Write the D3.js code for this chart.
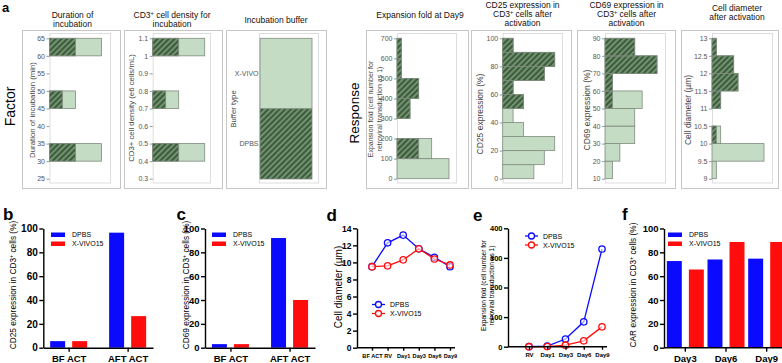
<!DOCTYPE html>
<html>
<head>
<meta charset="utf-8">
<script src="https://cdn.jsdelivr.net/npm/d3@7"></script>
<style>
  body { margin: 0; background: #fff; }
  svg { display: block; font-family: "Liberation Sans", Arial, sans-serif; }
</style>
</head>
<body>
<script>
// ---- panel a : factor / response distributions (bin lower edge, runs per bin, DPBS runs per bin)
const durationBins = [30, 45, 60];
const durationAll = [12, 6, 12];
const durationDpbs = [6, 3, 6];
const durationTicks = [25, 30, 35, 40, 45, 50, 55, 60, 65];

const densityBins = [0.4, 0.7, 1.0];
const densityAll = [12, 6, 12];
const densityDpbs = [6, 3, 6];
const densityTicks = [0.3, 0.4, 0.5, 0.6, 0.7, 0.8, 0.9, 1, 1.1];

const bufferTypes = ["DPBS", "X-VIVO"];
const bufferRuns = [15, 15];

const expansionBins = [0, 100, 200, 300, 400, 500, 600];
const expansionAll = [12, 8, 0, 3, 5, 1, 1];
const expansionDpbs = [0, 5, 0, 3, 5, 1, 1];
const expansionTicks = [0, 100, 200, 300, 400, 500, 600, 700];

const cd25Bins = [0, 10, 20, 30, 40, 50, 60, 70, 80, 90];
const cd25All = [3, 4, 5, 2, 1, 2, 1, 4, 5, 1];
const cd25DpbsRuns = [0, 0, 0, 0, 0, 2, 1, 4, 5, 1];
const cd25Ticks = [0, 20, 40, 60, 80, 100];

const cd69Bins = [10, 20, 30, 40, 50, 60, 70, 80];
const cd69All = [1, 2, 4, 4, 5, 1, 7, 4];
const cd69DpbsRuns = [0, 0, 0, 0, 1, 1, 7, 4];
const cd69Ticks = [10, 20, 30, 40, 50, 60, 70, 80, 90];

const diameterBins = [9, 9.5, 10, 10.5, 11, 11.5, 12, 12.5];
const diameterAll = [1, 12, 2, 0, 2, 6, 5, 1];
const diameterDpbs = [0, 0, 1, 0, 2, 6, 5, 1];
const diameterTicks = [9, 9.5, 10, 10.5, 11, 11.5, 12, 12.5, 13];

// ---- panels b-f
const buffers = ["DPBS", "X-VIVO15"];
const actCats = ["BF ACT", "AFT ACT"];
const cd25Dpbs = [5.5, 96.5];
const cd25Xvivo = [5.5, 26.5];
const cd69Dpbs = [3, 92];
const cd69Xvivo = [3, 40];
const diamDays = ["BF ACT", "RV", "Day1", "Day3", "Day6", "Day9"];
const diamDpbs = [9.5, 12.3, 13.2, 11.6, 10.6, 9.5];
const diamXvivo = [9.5, 9.6, 10.3, 11.6, 10.4, 9.7];
const expDays = ["RV", "Day1", "Day3", "Day6", "Day9"];
const expDpbs = [0, 2, 26, 84, 330];
const expXvivo = [0, 0.5, 5, 20, 67];
const carDays = ["Day3", "Day6", "Day9"];
const carDpbs = [72.7, 74, 74.7];
const carXvivo = [65.6, 88.7, 88.7];

const FONT = '"Liberation Sans", Arial, sans-serif';
const BLUE = "#0a0aff", RED = "#ff0d0d";
const LIGHT = "#c4dcc3", EDGE = "#7f8b7f";

const svg = d3.select("body").append("svg").attr("width", 782).attr("height", 363);

const pat = svg.append("defs").append("pattern")
  .attr("id", "hatch")
  .attr("patternUnits", "userSpaceOnUse")
  .attr("width", 4).attr("height", 4)
  .attr("patternTransform", "rotate(45)");
pat.append("rect").attr("width", 4).attr("height", 4).attr("fill", "#3c5c3c");
pat.append("rect").attr("width", 1.8).attr("height", 4).attr("fill", "#769676");

// text with "⁺" drawn as a small raised plus
function rich(sel, str) {
  str.split("⁺").forEach((part, i) => {
    if (i > 0) sel.append("tspan").attr("baseline-shift", "super").attr("font-size", "65%").text("+");
    sel.append("tspan").text(part);
  });
  return sel;
}

function text(x, y, str, size, opt) {
  opt = opt || {};
  const t = svg.append("text")
    .attr("x", x).attr("y", y)
    .attr("font-size", size)
    .attr("text-anchor", opt.anchor || "middle")
    .attr("font-weight", opt.weight || "normal")
    .attr("fill", opt.fill || "#000");
  return rich(t, str);
}

function vtext(x, y, str, size, opt) {
  opt = opt || {};
  const t = svg.append("text")
    .attr("transform", `translate(${x},${y}) rotate(-90)`)
    .attr("dy", "0.35em")
    .attr("font-size", size)
    .attr("text-anchor", "middle")
    .attr("font-weight", opt.weight || "normal")
    .attr("fill", opt.fill || "#000");
  return rich(t, str);
}

// ================= panel a =================
text(2, 12, "a", 13, {anchor: "start", weight: "bold"});
vtext(10, 106.5, "Factor", 14);
vtext(354, 113, "Response", 13.5);

function frames(f0, f1, a0, a1) {
  svg.append("rect").attr("x", f0 + 0.5).attr("y", 30.5).attr("width", f1 - f0).attr("height", 158)
    .attr("fill", "#fff").attr("stroke", "#c6c6c6");
  svg.append("rect").attr("x", a0 + 0.5).attr("y", 33.5).attr("width", a1 - a0).attr("height", 149.5)
    .attr("fill", "none").attr("stroke", "#dddddd");
}

function titles(lines, cx, y0, step) {
  lines.forEach((l, i) => text(cx, y0 + i * (step || 9.8), l, 8.5, {fill: "#111"}));
}

function histPanel(p) {
  frames(p.frame[0], p.frame[1], p.axisX, p.right);
  const y = d3.scaleLinear().domain(p.domain).range([178.7, 38.3]);
  const x = d3.scaleLinear().domain([0, d3.max(p.all)]).range([p.axisX, p.axisX + 52]);
  const g = svg.append("g");
  p.bins.forEach((b, i) => {
    if (!p.all[i]) return;
    const top = y(b + p.binW), h = y(b) - y(b + p.binW);
    g.append("rect").attr("x", x(0)).attr("y", top).attr("width", x(p.all[i]) - x(0)).attr("height", h)
      .attr("fill", LIGHT).attr("stroke", EDGE).attr("stroke-width", 0.8);
    if (p.dpbs[i]) {
      g.append("rect").attr("x", x(0)).attr("y", top).attr("width", x(p.dpbs[i]) - x(0)).attr("height", h)
        .attr("fill", "url(#hatch)").attr("stroke", EDGE).attr("stroke-width", 0.8);
    }
  });
  const ax = svg.append("g").attr("transform", `translate(${p.axisX},0)`)
    .call(d3.axisLeft(y).tickValues(p.ticks).tickSize(3).tickPadding(1.5).tickFormat(d3.format("~g")));
  ax.select(".domain").remove();
  ax.selectAll("line").attr("stroke", "#999");
  ax.selectAll("text").attr("fill", "#555").style("font-size", "7px").style("font-family", FONT);
  p.label.forEach((l, i) => vtext(p.labelX[i], p.labelY, l, p.labelSize || 7.8, {fill: "#444"}));
  titles(p.title, p.titleX, p.titleY, p.titleStep);
}

histPanel({title: ["Duration of", "incubation"], titleX: 72.5, titleY: 17.5,
  frame: [22, 120], axisX: 49.5, right: 110, domain: [25, 65], ticks: durationTicks,
  bins: durationBins, binW: 5, all: durationAll, dpbs: durationDpbs,
  label: ["Duration of incubation (min)"], labelX: [32.5], labelY: 110});

histPanel({title: ["CD3⁺ cell density for", "incubation"], titleX: 172, titleY: 17.5,
  frame: [124, 222], axisX: 152.7, right: 210, domain: [0.3, 1.1], ticks: densityTicks,
  bins: densityBins, binW: 0.1, all: densityAll, dpbs: densityDpbs,
  label: ["CD3+ cell density (e6 cells/mL)"], labelX: [131.5], labelY: 108});

// incubation buffer (mosaic)
(function () {
  frames(226, 326, 259, 318);
  const total = d3.sum(bufferRuns);
  const y = d3.scaleLinear().domain([0, total]).range([179, 38.3]);
  let acc = 0;
  bufferTypes.forEach((b, i) => {
    const y0 = y(acc), y1 = y(acc + bufferRuns[i]);
    svg.append("rect").attr("x", 260).attr("y", y1).attr("width", 52).attr("height", y0 - y1)
      .attr("fill", b === "DPBS" ? "url(#hatch)" : LIGHT).attr("stroke", EDGE).attr("stroke-width", 0.8);
    text(258.5, (y0 + y1) / 2 + 2.5, b, 7, {anchor: "end", fill: "#555"});
    acc += bufferRuns[i];
  });
  vtext(233, 109, "Buffer type", 7.8, {fill: "#444"});
  titles(["Incubation buffer"], 276, 22.5);
})();

histPanel({title: ["Expansion fold at Day9"], titleX: 420, titleY: 18,
  frame: [366, 468], axisX: 397, right: 456, domain: [0, 700], ticks: expansionTicks,
  bins: expansionBins, binW: 100, all: expansionAll, dpbs: expansionDpbs,
  label: ["Expansion fold (cell number for", "retroviral transduction as 1)"],
  labelX: [371, 379.5], labelY: 109, labelSize: 7});

histPanel({title: ["CD25 expression in", "CD3⁺ cells after", "activation"], titleX: 522.5, titleY: 7.5, titleStep: 9,
  frame: [471, 571], axisX: 502.7, right: 562, domain: [0, 100], ticks: cd25Ticks,
  bins: cd25Bins, binW: 10, all: cd25All, dpbs: cd25DpbsRuns,
  label: ["CD25 expression (%)"], labelX: [480.5], labelY: 114, labelSize: 8.5});

histPanel({title: ["CD69 expression in", "CD3⁺ cells after", "activation"], titleX: 626.5, titleY: 7.5, titleStep: 9,
  frame: [577, 675], axisX: 605, right: 665, domain: [10, 90], ticks: cd69Ticks,
  bins: cd69Bins, binW: 10, all: cd69All, dpbs: cd69DpbsRuns,
  label: ["CD69 expression (%)"], labelX: [587], labelY: 110, labelSize: 8.5});

histPanel({title: ["Cell diameter", "after activation"], titleX: 737, titleY: 10.5,
  frame: [681, 778], axisX: 712, right: 772, domain: [9, 13], ticks: diameterTicks,
  bins: diameterBins, binW: 0.5, all: diameterAll, dpbs: diameterDpbs,
  label: ["Cell diameter (µm)"], labelX: [688.5], labelY: 110, labelSize: 8.5});

// ================= panels b - f =================
function styleAxis(ax, size) {
  ax.selectAll("path, line").attr("stroke", "#000").attr("stroke-width", 1.4);
  ax.selectAll("text").attr("fill", "#000").style("font-size", size + "px")
    .style("font-weight", "bold").style("font-family", FONT);
}

function yAxis(y, x, ticks, size) {
  const ax = svg.append("g").attr("transform", `translate(${x},0)`)
    .call(d3.axisLeft(y).tickValues(ticks).tickSize(4).tickSizeOuter(0).tickPadding(1.5));
  styleAxis(ax, size);
}

function barLegend(x, y) {
  [BLUE, RED].forEach((c, i) => {
    svg.append("rect").attr("x", x).attr("y", y + i * 9 - 2).attr("width", 14).attr("height", 4.5).attr("fill", c);
    text(x + 21, y + i * 9 + 2.5, buffers[i], 7, {anchor: "start"});
  });
}

function lineLegend(x, y) {
  [BLUE, RED].forEach((c, i) => {
    const yy = y + i * 9;
    svg.append("line").attr("x1", x).attr("x2", x + 13).attr("y1", yy).attr("y2", yy)
      .attr("stroke", c).attr("stroke-width", 1.3);
    svg.append("circle").attr("cx", x + 6.5).attr("cy", yy).attr("r", 3)
      .attr("fill", "#fff").attr("stroke", c).attr("stroke-width", 1.3);
    text(x + 18, yy + 2.5, buffers[i], 7, {anchor: "start"});
  });
}

function barPanel(p) {
  const y = d3.scaleLinear().domain([0, 100]).range([347.7, 228.5]);
  const x = p.band
    ? d3.scaleBand().domain(p.cats).range([p.axisX + 1, p.xEnd])
    : d3.scalePoint().domain(p.cats).range([p.axisX, p.xEnd]).padding(0.43);
  const sub = d3.scaleBand().domain(buffers).range([-18.5, 18.5]).paddingInner(0.32);
  const center = c => p.band ? x(c) + x.bandwidth() / 2 : x(c);
  [p.dpbs, p.xvivo].forEach((vals, s) => {
    svg.append("g").selectAll("rect").data(p.cats).join("rect")
      .attr("x", c => center(c) + sub(buffers[s]))
      .attr("y", (c, i) => y(vals[i]))
      .attr("width", sub.bandwidth())
      .attr("height", (c, i) => y(0) - y(vals[i]))
      .attr("fill", s ? RED : BLUE);
  });
  yAxis(y, p.axisX, [0, 20, 40, 60, 80, 100], p.tick);
  const xa = svg.append("g").attr("transform", `translate(0,${y(0)})`)
    .call(d3.axisBottom(x).tickSize(4).tickSizeOuter(0).tickPadding(4));
  if (p.band) xa.select(".domain").attr("d", `M${p.axisX},0H${p.xEnd}`);
  styleAxis(xa, 9.5);
  barLegend(p.legendX, 234.5);
  vtext(p.labelX, 285, p.label, 8.3);
  text(p.letterX, 220, p.letter, 17, {anchor: "start", weight: "bold"});
}

barPanel({letter: "b", letterX: 3, axisX: 43.3, xEnd: 153, cats: actCats, dpbs: cd25Dpbs, xvivo: cd25Xvivo,
  tick: 10, label: "CD25 expression in CD3⁺ cells (%)", labelX: 13, legendX: 51});
barPanel({letter: "c", letterX: 176.5, axisX: 205, xEnd: 315, cats: actCats, dpbs: cd69Dpbs, xvivo: cd69Xvivo,
  tick: 9.5, label: "CD69 expression in CD3⁺ cells (%)", labelX: 186, legendX: 212});
barPanel({letter: "f", letterX: 622, axisX: 664, xEnd: 787, band: true, cats: carDays, dpbs: carDpbs, xvivo: carXvivo,
  tick: 9.5, label: "CAR expression in CD3⁺ cells (%)", labelX: 633, legendX: 668});

function linePanel(p) {
  const y = d3.scaleLinear().domain([0, p.max]).range([p.y0, 228.3]);
  const x = d3.scalePoint().domain(p.cats).range(p.points);
  [p.dpbs, p.xvivo].forEach((vals, s) => {
    const c = s ? RED : BLUE;
    const pts = p.cats.map((d, i) => [x(d), y(vals[i])]);
    svg.append("path").attr("d", d3.line()(pts)).attr("fill", "none").attr("stroke", c).attr("stroke-width", 1.3);
    svg.append("g").selectAll("circle").data(pts).join("circle")
      .attr("cx", d => d[0]).attr("cy", d => d[1]).attr("r", 3.2)
      .attr("fill", "#fff").attr("fill-opacity", 0.6).attr("stroke", c).attr("stroke-width", 1.3);
  });
  yAxis(y, p.axisX, p.ticks, p.tick);
  const xa = svg.append("g").attr("transform", `translate(0,${p.y0})`)
    .call(d3.axisBottom(x).tickSize(3).tickSizeOuter(0).tickPadding(3));
  xa.select(".domain").attr("d", `M${p.axisX},0H${p.xEnd}`);
  styleAxis(xa, p.xtick);
  lineLegend(p.legend[0], p.legend[1]);
  text(p.letterX, 220.5, p.letter, 17, {anchor: "start", weight: "bold"});
}

linePanel({letter: "d", letterX: 326.5, axisX: 357, xEnd: 455, points: [372, 450], y0: 347.7, max: 14,
  ticks: [0, 2, 4, 6, 8, 10, 12, 14], tick: 8.5, xtick: 5.6,
  cats: diamDays, dpbs: diamDpbs, xvivo: diamXvivo, legend: [372, 304.5]});
vtext(338, 287, "Cell diameter (µm)", 10);

linePanel({letter: "e", letterX: 473, axisX: 508, xEnd: 607, points: [529, 602], y0: 346.7, max: 400,
  ticks: [0, 100, 200, 300, 400], tick: 7.5, xtick: 6,
  cats: expDays, dpbs: expDpbs, xvivo: expXvivo, legend: [525, 236]});
vtext(484, 285.5, "Expansion fold (cell number for", 6.6);
vtext(492, 285.5, "retroviral transduction as 1)", 6.6);
</script>
</body>
</html>
